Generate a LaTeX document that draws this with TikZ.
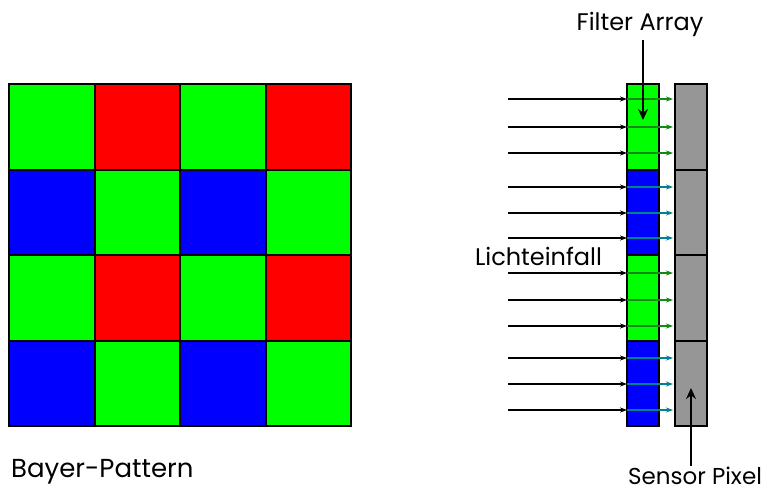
\documentclass[tikz,border=0pt]{standalone}
\usepackage{fontspec}
\setmainfont{Poppins}
\usetikzlibrary{arrows.meta}
\definecolor{fgreen}{RGB}{0,255,0}
\definecolor{fred}{RGB}{255,0,0}
\definecolor{fblue}{RGB}{0,0,255}
\definecolor{sgray}{RGB}{150,150,150}
\definecolor{rgreen}{RGB}{20,135,20}
\definecolor{rteal}{RGB}{0,130,145}
\tikzset{
  cell/.style={draw=black, line width=2pt, minimum width=85.5pt, minimum height=85.5pt, inner sep=0pt, outer sep=0pt},
  strip/.style={draw=black, line width=2pt, minimum width=32pt, minimum height=85.5pt, inner sep=0pt, outer sep=0pt},
  label/.style={font=\fontsize{24}{28}\selectfont, inner sep=0pt, anchor=base},
  ray/.style={line width=1.5pt, -{Stealth[length=7pt,width=5pt]}},
  pointer/.style={line width=1.6pt, -{Stealth[length=11pt,width=10pt]}}
}
\begin{document}
\begin{tikzpicture}[x=1pt,y=-1pt]
\useasboundingbox (0,0) rectangle (770,492);
% Bayer mosaic
\foreach \r/\cols in {1/{fgreen,fred,fgreen,fred},2/{fblue,fgreen,fblue,fgreen},3/{fgreen,fred,fgreen,fred},4/{fblue,fgreen,fblue,fgreen}}{
  \foreach \c [count=\k] in \cols {
    \node[cell, fill=\c] (b\r\k) at ({9+85.5*(\k-0.5)},{84+85.5*(\r-0.5)}) {};
  }
}
\node[label, anchor=base west, font=\fontsize{26}{30}\selectfont] (bp) at (11,477) {Bayer-Pattern};
% filter strip and sensor pixels
\foreach \i/\c in {1/fgreen,2/fblue,3/fgreen,4/fblue}{
  \node[strip, fill=\c] (f\i) at (643,{84+85.5*(\i-0.5)}) {};
  \node[strip, fill=sgray] (s\i) at (690.5,{84+85.5*(\i-0.5)}) {};
}
% incoming rays and transmitted light, three per filter cell
\foreach \i/\rc/\ya/\yb/\yc in {1/rgreen/99/127/153, 2/rteal/187/213/238, 3/rgreen/273/300/326, 4/rteal/358/384/410}{
  \foreach \y [count=\j] in {\ya,\yb,\yc}{
    \coordinate (in\i\j) at (508,\y);
    \coordinate (out\i\j) at (673,\y);
    \draw[ray] (in\i\j) -- (in\i\j -| f\i.west);
    \draw[ray, color=\rc] (in\i\j -| f\i.west) -- (out\i\j);
  }
}
% labels
\node[label] (fa) at (640,31) {Filter Array};
\node[label] (li) at (538.5,265) {Lichteinfall};
\node[label, font=\fontsize{23}{27}\selectfont] (sp) at (695,484) {Sensor Pixel};
\draw[pointer] (643,40) -- (643,120);
\draw[pointer] (691,466) -- (691,388);
\end{tikzpicture}
\end{document}
